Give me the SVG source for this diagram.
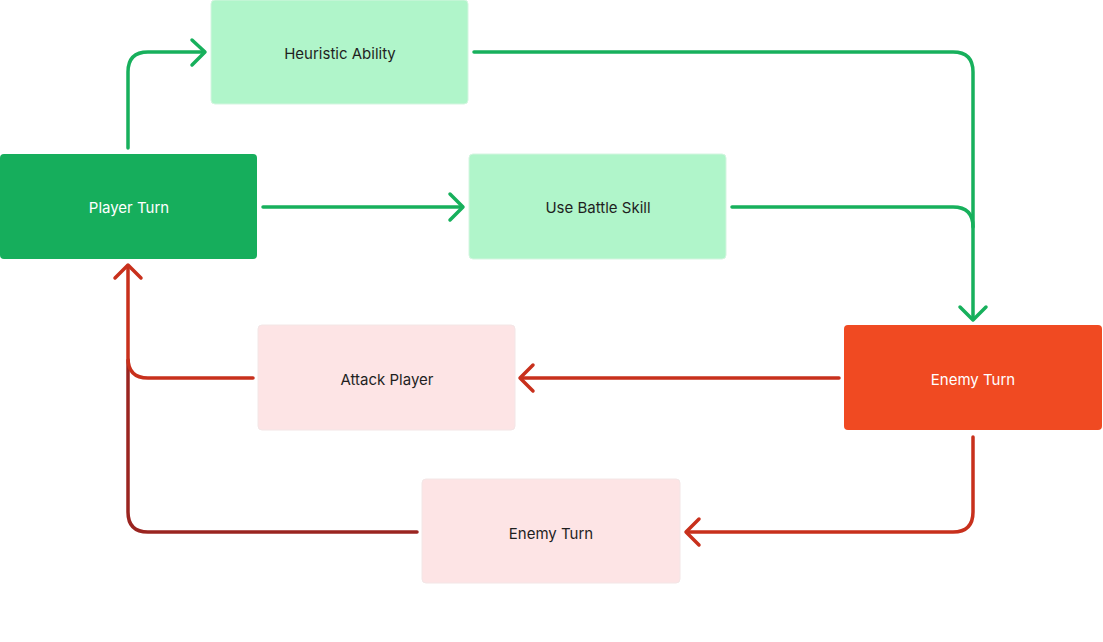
<svg xmlns="http://www.w3.org/2000/svg" width="1103" height="642" viewBox="0 0 1103 642">
<style>
.lbl{font-family:Inter,"Noto Sans","Liberation Sans",sans-serif;font-size:15px;text-anchor:middle;dominant-baseline:central}
.dark{fill:#1f1f1f}
.light{fill:#ffffff}
.c{fill:none;stroke-width:3.5;stroke-linecap:round;stroke-linejoin:round}
.g{stroke:#17b05c}
.r{stroke:#c8301c}
.dr{stroke:#9a2420}
</style>
<rect width="1103" height="642" fill="#ffffff"/>
<g id="connectors">
  <path class="c g" d="M128,148 V72 Q128,52 148,52 H204"/>
  <path class="c g" d="M192,40 L205,52 L192,65"/>
  <path class="c g" d="M474,52 H953 Q973,52 973,72 V319"/>
  <path class="c g" d="M960,307 L973,320 L986,307"/>
  <path class="c g" d="M263,207 H462"/>
  <path class="c g" d="M450,194 L463,207 L450,220"/>
  <path class="c g" d="M732,207 H953 Q973,207 973,227"/>
  <path class="c r" d="M839,378 H521"/>
  <path class="c r" d="M533,365 L520,378 L533,391"/>
  <path class="c dr" d="M417,532 H148 Q128,532 128,512 V360"/>
  <path class="c r" d="M253,378 H148 Q128,378 128,358 V266"/>
  <path class="c r" d="M115,278 L128,265 L141,278"/>
  <path class="c r" d="M973,437 V512 Q973,532 953,532 H687"/>
  <path class="c r" d="M699,519 L686,532 L699,545"/>
</g>
<g id="node-heuristic">
  <rect x="211" y="0" width="257" height="104" rx="4" fill="#b0f5ca" stroke="#d4f5e0" stroke-width="1"/>
  <text class="lbl dark" x="340" y="53">Heuristic Ability</text>
</g>
<g id="node-player">
  <rect x="0" y="154" width="257" height="105" rx="4" fill="#16ae5c"/>
  <text class="lbl light" x="129" y="207">Player Turn</text>
</g>
<g id="node-battle">
  <rect x="469" y="154" width="257" height="105" rx="4" fill="#b0f5ca" stroke="#d4f5e0" stroke-width="1"/>
  <text class="lbl dark" x="598" y="207">Use Battle Skill</text>
</g>
<g id="node-attack">
  <rect x="258" y="325" width="257" height="105" rx="4" fill="#fde4e5" stroke="#f3e6e6" stroke-width="1"/>
  <text class="lbl dark" x="387" y="379">Attack Player</text>
</g>
<g id="node-enemy">
  <rect x="844" y="325" width="258" height="105" rx="4" fill="#f04a22"/>
  <text class="lbl light" x="973" y="379">Enemy Turn</text>
</g>
<g id="node-enemy2">
  <rect x="422" y="479" width="258" height="104" rx="4" fill="#fde4e5" stroke="#f3e6e6" stroke-width="1"/>
  <text class="lbl dark" x="551" y="533">Enemy Turn</text>
</g>
</svg>
